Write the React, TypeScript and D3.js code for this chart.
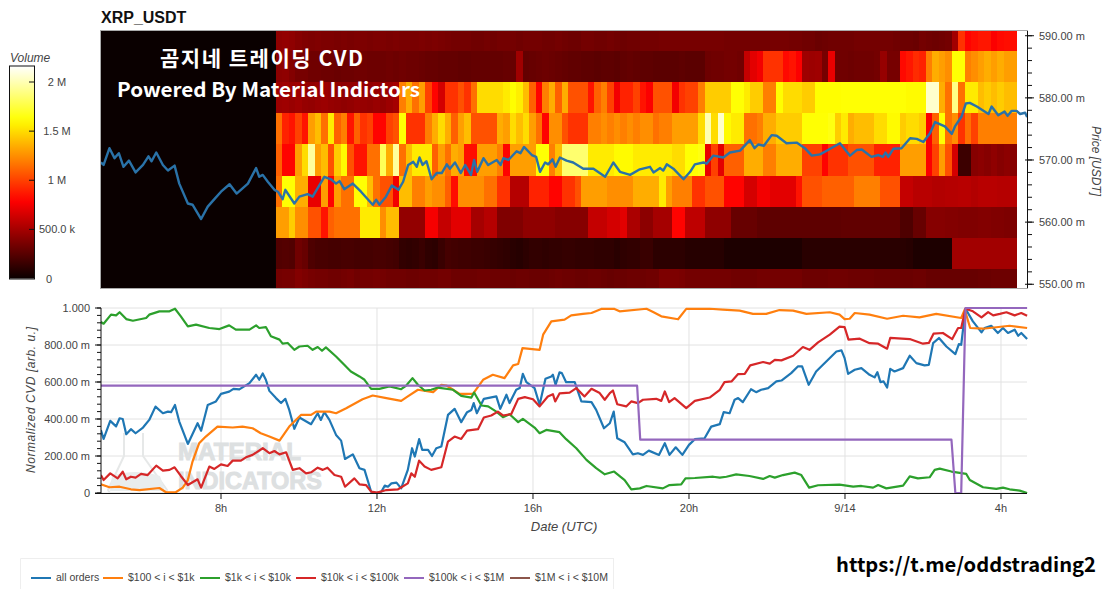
import React from "react";
import * as d3 from "d3";

const heatRow1 = [430,440,430,400,380,370,380,370,370,360,370,360,370,370,360,370,370,360,370,360,360,360,370,360,370,360,350,340,340,340,330,330,340,330,340,340,340,330,340,340,340,330,330,340,330,320,320,340,340,330,330,340,330,320,330,330,340,340,340,350,350,350,350,350,350,350,350,350,350,340,340,340,340,340,340,340,350,350,350,340,340,330,330,310,320,330,330,330,330,340,340,340,340,340,340,330,320,320,310,340,330,320,330,340,490,950,800,830,860,860,780,820,830,830];
const heatRow2 = [420,430,390,350,350,330,330,320,320,310,320,320,330,330,320,320,320,330,320,330,320,320,310,300,300,290,290,290,280,280,290,290,290,290,290,300,300,480,290,300,310,320,310,300,290,280,280,270,270,260,270,270,260,280,290,280,270,270,260,260,260,260,270,260,260,260,320,330,330,340,340,330,600,700,750,950,950,950,820,850,780,480,470,480,350,720,330,330,320,330,330,330,340,450,350,350,820,860,930,900,1200,1350,1300,1250,1620,1620,1200,1250,1300,1350,1300,1350,1300,1300];
const heatRow3 = [470,480,460,480,450,440,460,470,450,440,430,440,460,450,440,460,440,470,500,1200,1350,1150,1300,1000,800,650,950,950,1050,950,1150,1500,1500,1500,1500,1550,1610,1560,1400,1100,800,1200,1350,1100,1350,1050,1050,1050,850,1100,1200,1000,750,900,900,1000,850,780,1050,1050,1050,750,950,1000,1000,1200,1450,1450,1450,1450,1620,1620,1550,1450,1450,1200,1200,1610,1500,1500,1500,1450,1450,1610,1610,1610,1610,1620,1620,1620,1620,1620,1620,1620,1620,1620,1620,1600,1600,1600,2050,2050,1350,1150,1900,1150,1550,1550,1400,1450,1400,1450,1400,1400];
const heatRow4 = [1150,900,850,1000,850,1300,1400,1150,1550,1100,1200,850,1100,950,1000,800,800,1000,1050,1620,950,950,950,1200,1350,1500,1350,1100,1300,1400,1050,1050,1050,1050,1350,1300,1500,1400,1500,1300,1150,800,1250,1250,1050,950,950,950,1200,1200,1250,1200,1250,1200,1250,1200,1250,1250,1150,1200,1200,1300,1300,1300,1300,1500,2000,1500,2050,1600,1550,1550,1150,1150,1200,1350,1350,1450,1450,1450,1450,1620,1620,1620,1620,1650,1450,1550,1350,1400,1400,1400,1500,1500,1600,1600,1450,1500,1500,1450,780,1100,1620,1150,1250,950,1150,1000,1200,1200,1200,1200,1200,1200];
const heatRow5 = [1100,800,800,1300,1500,1950,1300,1400,1050,1450,1600,1050,850,850,1150,1150,1800,1350,1950,1150,1400,1550,1550,1550,1100,1300,1150,1350,1300,830,830,1300,1300,1300,1200,800,1300,1300,1300,1300,1620,1620,1200,1400,1850,1850,1850,1850,1550,1550,1550,1550,1600,1600,1600,1550,1550,1550,1550,1550,1550,1500,1500,1620,1620,1650,720,1000,700,1100,1100,1100,1350,1350,1350,1200,1200,1350,1350,1350,1350,1000,1000,1000,800,950,950,950,1050,1050,1050,1050,900,900,900,900,1300,1300,1300,1300,780,1000,1300,1050,650,160,160,400,420,400,430,400,420,400];
const heatRow6 = [1150,1620,1620,1350,1350,720,720,1300,800,1300,1150,1150,1620,1620,1400,1150,1050,1050,750,1400,1400,1200,1200,1300,1250,1250,1100,830,1250,1250,1250,1250,1150,1150,950,950,550,550,550,900,900,900,800,800,950,950,1050,1300,1300,1300,1300,1250,1250,1250,1250,1350,1350,1350,1350,1550,1300,1200,1200,1200,950,950,1050,1050,1050,800,800,800,650,650,750,750,700,700,700,700,850,1050,1050,1050,1100,1100,1100,1100,1100,1200,1200,1200,1200,1050,1050,1050,600,600,560,560,560,540,540,550,550,560,560,540,560,560,560,550,550,560];
const heatRow7 = [1300,1300,1450,1250,1250,1050,1050,850,1100,1150,1150,1150,1150,1550,1550,1550,1250,1400,1400,440,440,440,440,760,760,600,600,700,700,700,500,500,550,550,380,380,380,380,430,430,430,430,430,400,400,400,400,400,600,600,600,650,650,700,520,520,420,420,500,500,500,800,800,580,580,580,430,430,430,430,300,300,300,300,270,270,270,270,270,270,270,270,270,270,270,270,270,280,280,280,280,280,280,280,280,280,220,220,300,300,400,400,400,390,390,380,380,380,390,390,380,380,370,370];
const heatRow8 = [230,240,230,330,300,220,200,200,190,190,200,200,190,190,190,200,200,190,180,130,120,130,150,120,110,150,190,180,170,170,160,160,150,140,130,120,100,90,110,130,130,120,130,130,140,140,130,130,130,120,120,120,100,120,130,130,150,150,110,110,110,110,110,90,90,90,90,90,90,60,60,60,60,60,60,60,60,60,60,60,60,100,100,100,100,100,100,100,100,100,100,100,100,100,100,100,100,90,60,60,60,60,60,60,490,490,490,490,490,490,490,490,490,490];
const heatRow9 = [340,350,350,390,370,350,340,340,330,330,340,350,330,340,340,350,340,330,330,330,320,320,330,330,330,340,340,320,320,320,320,330,330,320,320,320,310,320,320,310,310,310,320,330,320,320,310,310,320,320,310,300,310,310,320,320,320,330,330,370,370,370,360,340,340,340,340,340,340,340,330,330,330,330,340,340,340,340,340,340,340,320,320,320,320,330,330,330,320,320,320,320,310,310,310,310,310,310,320,320,300,300,300,300,300,300,300,300,310,310,320,320,320,320];
const heatRows = [heatRow1, heatRow2, heatRow3, heatRow4, heatRow5, heatRow6, heatRow7, heatRow8, heatRow9];
const bandCentres = [590, 585, 580, 575, 570, 565, 560, 555, 550];

const price: [number, number][] = [[4.92,569.6],[4.99,569.2],[5.14,571.9],[5.27,570.3],[5.38,571.1],[5.5,568.9],[5.64,569.9],[5.81,568.0],[6.0,569.2],[6.14,570.6],[6.22,569.8],[6.34,571.2],[6.51,569.2],[6.64,568.3],[6.81,569.1],[6.93,566.2],[7.15,563.0],[7.27,562.8],[7.49,560.5],[7.66,562.5],[7.83,563.7],[8.0,564.9],[8.22,566.1],[8.4,564.6],[8.69,566.2],[8.9,568.7],[8.98,567.3],[9.07,567.6],[9.2,566.5],[9.37,565.2],[9.46,564.9],[9.58,563.7],[9.65,565.2],[9.88,563.0],[10.01,564.1],[10.22,564.5],[10.35,564.1],[10.65,567.3],[10.82,566.9],[10.95,566.2],[11.04,566.6],[11.16,565.3],[11.38,566.2],[11.59,564.9],[11.89,562.8],[11.98,563.6],[12.06,562.8],[12.23,564.1],[12.38,565.9],[12.55,565.2],[12.67,566.5],[12.8,569.2],[12.93,569.7],[13.02,568.9],[13.09,570.4],[13.17,569.2],[13.27,569.8],[13.4,566.9],[13.53,567.9],[13.66,567.9],[13.79,569.3],[13.87,568.6],[14.0,569.6],[14.15,567.9],[14.26,569.2],[14.41,567.6],[14.49,570.0],[14.57,568.1],[14.73,570.3],[14.85,569.2],[15.07,570.0],[15.17,569.2],[15.24,570.3],[15.37,570.0],[15.58,571.4],[15.68,571.1],[15.77,572.1],[15.97,570.8],[16.08,570.5],[16.18,568.1],[16.31,569.6],[16.39,569.3],[16.5,570.1],[16.58,568.9],[16.69,570.4],[16.86,569.9],[17.03,569.6],[17.29,568.6],[17.55,568.6],[17.85,567.3],[18.06,569.6],[18.23,568.1],[18.49,567.6],[18.74,568.5],[19.0,568.9],[19.09,568.0],[19.26,568.7],[19.34,568.3],[19.43,569.3],[19.6,568.6],[19.86,566.9],[20.03,568.1],[20.15,569.3],[20.37,569.6],[20.45,569.4],[20.62,570.7],[20.88,570.4],[21.05,571.2],[21.31,571.5],[21.56,573.2],[21.68,571.9],[21.78,572.5],[21.92,572.3],[22.12,574.0],[22.25,573.9],[22.5,572.7],[22.76,572.8],[22.97,571.9],[23.15,570.7],[23.36,570.9],[23.53,571.5],[23.87,572.7],[24.13,570.7],[24.3,571.6],[24.43,571.7],[24.68,570.5],[24.86,570.8],[24.97,570.5],[25.04,571.2],[25.11,570.5],[25.24,571.8],[25.45,571.9],[25.67,573.5],[25.84,573.4],[26.01,572.9],[26.18,574.3],[26.31,576.1],[26.56,575.4],[26.74,574.2],[26.82,575.4],[26.99,577.0],[27.1,579.1],[27.2,579.2],[27.38,578.6],[27.68,577.4],[27.76,578.6],[27.93,577.2],[28.09,577.8],[28.17,577.1],[28.27,577.9],[28.4,577.9],[28.49,577.4],[28.62,577.6],[28.67,576.9]];

const allOrders: [number, number][] = [[4.92,340],[4.99,292],[5.16,390],[5.31,360],[5.4,404],[5.48,400],[5.57,318],[5.69,345],[5.81,323],[6.0,354],[6.16,395],[6.32,467],[6.51,431],[6.64,440],[6.72,437],[6.82,476],[6.93,386],[7.15,265],[7.4,377],[7.49,337],[7.66,476],[7.87,495],[8.0,536],[8.21,548],[8.32,563],[8.47,560],[8.73,594],[8.9,639],[8.98,612],[9.07,646],[9.15,612],[9.24,552],[9.41,513],[9.54,486],[9.65,509],[9.75,449],[9.88,347],[10.01,408],[10.31,372],[10.48,431],[10.56,395],[10.65,437],[10.78,395],[10.95,314],[11.08,283],[11.18,184],[11.38,209],[11.55,134],[11.68,125],[11.85,7],[11.98,0],[12.11,7],[12.2,40],[12.28,34],[12.37,52],[12.5,56],[12.62,25],[12.79,125],[12.9,242],[12.97,197],[13.08,291],[13.16,233],[13.31,233],[13.41,200],[13.52,242],[13.65,251],[13.82,422],[13.99,455],[14.16,383],[14.31,437],[14.42,449],[14.48,486],[14.56,431],[14.74,509],[15.06,522],[15.16,455],[15.32,531],[15.4,486],[15.57,558],[15.66,567],[15.74,644],[15.83,599],[16.04,567],[16.17,477],[16.32,617],[16.47,630],[16.51,639],[16.58,585],[16.68,652],[16.74,648],[16.85,599],[17.07,599],[17.24,495],[17.5,491],[17.62,449],[17.82,350],[17.97,377],[18.07,440],[18.16,296],[18.35,274],[18.56,209],[18.69,215],[18.82,206],[18.97,229],[19.23,206],[19.38,269],[19.5,206],[19.66,247],[19.83,206],[20.0,260],[20.15,291],[20.4,296],[20.57,359],[20.79,372],[20.89,437],[21.04,431],[21.17,504],[21.26,513],[21.38,491],[21.59,561],[21.72,545],[21.85,558],[22.03,567],[22.24,603],[22.37,608],[22.62,648],[22.79,684],[22.9,684],[23.07,585],[23.26,657],[23.52,711],[23.78,765],[23.91,771],[23.99,729],[24.08,644],[24.25,666],[24.42,675],[24.63,639],[24.76,625],[24.83,653],[24.91,599],[24.99,603],[25.08,570],[25.16,671],[25.27,657],[25.49,675],[25.66,742],[25.83,702],[26.04,690],[26.15,693],[26.26,810],[26.41,838],[26.6,792],[26.83,751],[26.92,805],[26.98,801],[27.09,996],[27.28,928],[27.5,868],[27.58,892],[27.75,904],[27.92,865],[28.05,892],[28.18,865],[28.35,883],[28.44,850],[28.52,865],[28.67,832]];

const usd100to1k: [number, number][] = [[4.92,47],[5.14,31],[5.4,34],[5.69,20],[5.91,16],[6.42,27],[6.59,4],[6.84,4],[7.02,29],[7.15,70],[7.27,170],[7.44,269],[7.61,305],[7.91,359],[8.3,354],[8.55,359],[8.81,350],[9.02,323],[9.24,305],[9.5,283],[9.75,359],[10.05,422],[10.31,422],[10.44,440],[10.78,440],[10.95,431],[11.21,458],[11.63,507],[11.89,527],[12.24,513],[12.62,498],[12.79,522],[13.05,558],[13.44,545],[13.65,585],[13.78,581],[14.12,536],[14.46,536],[14.72,612],[14.97,639],[15.27,621],[15.49,690],[15.62,697],[15.73,783],[16.17,774],[16.26,856],[16.47,928],[16.81,937],[16.98,960],[17.28,968],[17.5,973],[17.75,995],[18.09,995],[18.22,982],[18.91,996],[19.08,978],[19.29,955],[19.72,939],[19.93,995],[20.53,996],[20.87,991],[21.3,986],[21.64,968],[21.98,968],[22.32,989],[22.67,986],[23.01,968],[23.61,977],[23.86,964],[23.99,940],[24.12,942],[24.25,973],[24.63,964],[25.08,942],[25.49,958],[25.91,949],[26.34,968],[26.98,946],[27.07,991],[27.21,892],[27.54,888],[28.22,904],[28.67,892]];

const usd1kto10k: [number, number][] = [[4.92,924],[4.99,915],[5.18,964],[5.31,960],[5.4,977],[5.57,940],[5.74,931],[6.08,946],[6.16,964],[6.42,982],[6.68,982],[6.82,996],[6.97,955],[7.15,901],[7.36,910],[7.7,892],[7.96,886],[8.21,906],[8.38,883],[8.73,883],[8.9,906],[8.98,892],[9.15,897],[9.28,847],[9.5,829],[9.58,807],[9.71,811],[9.88,774],[10.01,792],[10.22,796],[10.35,774],[10.48,789],[10.59,769],[10.69,787],[10.95,738],[11.16,693],[11.33,657],[11.55,630],[11.68,612],[11.85,563],[12.06,563],[12.32,576],[12.62,561],[12.75,581],[12.91,621],[13.05,585],[13.22,554],[13.39,558],[13.56,570],[13.95,558],[14.16,525],[14.42,516],[14.49,543],[14.68,473],[14.85,468],[15.06,440],[15.23,410],[15.4,426],[15.62,383],[15.74,401],[16.04,354],[16.17,323],[16.34,341],[16.68,329],[16.85,291],[17.11,242],[17.37,179],[17.62,134],[17.84,101],[18.08,116],[18.35,70],[18.52,20],[18.74,25],[18.91,38],[19.33,25],[19.5,43],[19.8,47],[19.91,79],[20.15,81],[20.62,88],[20.79,83],[20.96,88],[21.21,101],[21.55,92],[21.9,76],[22.07,92],[22.2,83],[22.41,97],[22.71,110],[22.88,97],[23.08,29],[23.31,42],[23.86,45],[24.21,34],[24.42,38],[24.72,29],[24.85,43],[25.06,25],[25.49,40],[25.66,90],[25.87,79],[26.17,85],[26.3,125],[26.43,132],[26.73,116],[27.11,103],[27.2,70],[27.54,31],[27.88,22],[28.05,29],[28.22,20],[28.48,13],[28.67,0]];

const usd10kto100k: [number, number][] = [[4.92,97],[4.99,70],[5.16,106],[5.35,79],[5.48,115],[5.57,74],[5.69,88],[5.81,83],[5.95,103],[6.12,97],[6.34,148],[6.51,121],[6.68,125],[6.81,139],[6.97,92],[7.15,43],[7.4,74],[7.49,29],[7.7,143],[7.83,130],[8.0,155],[8.17,146],[8.3,175],[8.51,175],[8.64,193],[8.81,206],[9.07,242],[9.24,215],[9.37,227],[9.5,209],[9.67,220],[9.84,125],[10.01,134],[10.18,106],[10.31,112],[10.48,137],[10.61,125],[10.73,137],[10.91,97],[11.08,88],[11.18,34],[11.42,79],[11.55,47],[11.72,43],[11.85,7],[12.0,2],[12.24,16],[12.54,20],[12.79,52],[12.88,106],[12.97,88],[13.08,175],[13.22,143],[13.39,125],[13.65,139],[13.82,278],[13.99,305],[14.16,292],[14.31,337],[14.59,345],[14.74,408],[14.93,419],[15.1,440],[15.23,419],[15.44,426],[15.62,509],[15.79,518],[16.0,507],[16.17,468],[16.38,522],[16.51,534],[16.57,495],[16.68,538],[16.94,543],[17.11,567],[17.32,522],[17.5,563],[17.71,540],[17.84,504],[17.97,540],[18.05,554],[18.16,480],[18.39,468],[18.52,495],[18.69,486],[18.82,504],[19.16,509],[19.29,498],[19.38,549],[19.49,491],[19.63,513],[19.93,459],[20.15,498],[20.53,516],[20.79,558],[20.91,599],[21.09,603],[21.26,643],[21.43,644],[21.57,690],[21.9,708],[22.07,699],[22.2,720],[22.37,717],[22.67,742],[22.92,789],[23.09,774],[23.31,814],[23.61,856],[23.86,899],[23.99,897],[24.09,829],[24.38,834],[24.63,810],[24.85,807],[25.08,780],[25.16,838],[25.66,832],[26.0,807],[26.15,811],[26.27,861],[26.51,865],[26.75,832],[26.9,892],[26.98,892],[27.09,996],[27.28,982],[27.5,949],[27.67,978],[27.8,960],[27.97,968],[28.14,977],[28.35,960],[28.52,973],[28.67,958]];

const usd100kto1M: [number, number][] = [[4.92,580],[18.67,580],[18.75,288],[26.73,288],[26.83,0],[26.98,0],[27.09,1000],[28.67,1000]];
const usd1Mto10M: [number, number][] = [];

const seriesNames = ["all orders", "$100 < i < $1k", "$1k < i < $10k", "$10k < i < $100k", "$100k < i < $1M", "$1M < i < $10M"];
const seriesColors = ["#1f77b4", "#ff7f0e", "#2ca02c", "#d62728", "#9467bd", "#8c564b"];
const seriesData = [allOrders, usd100to1k, usd1kto10k, usd10kto100k, usd100kto1M, usd1Mto10M];

const xTickVals = [8, 12, 16, 20, 24, 28];
const xTickText = ["8h", "12h", "16h", "20h", "9/14", "4h"];
const cvdTicks = [0, 200, 400, 600, 800, 1000];
const cvdTickText = ["0", "200.00 m", "400.00 m", "600.00 m", "800.00 m", "1.000"];
const priceTicks = [550, 560, 570, 580, 590];
const volTicks = [0, 500, 1000, 1500, 2000];
const volTickText = ["0", "500.0 k", "1 M", "1.5 M", "2 M"];

const W = 1108, H = 589;
const SANS = "'Liberation Sans', Arial, sans-serif";
const KR = "'Noto Sans CJK KR', sans-serif";
const TICK = "#444";

const x = d3.scaleLinear().domain([4.923, 28.667]).range([101, 1027]);
const yPrice = d3.scaleLinear().domain([549.4, 590.76]).range([288, 31]);
const yCvd = d3.scaleLinear().domain([0, 1000]).range([493, 308]);
const yVol = d3.scaleLinear().domain([0, 2163]).range([278.5, 66]);
const VMAX = 2163;
const hot = d3.scaleLinear<string>()
  .domain([0, 0.365 * VMAX, 0.746 * VMAX, VMAX])
  .range(["#0a0000", "#ff0000", "#ffff00", "#ffffff"])
  .interpolate(d3.interpolateRgb as any)
  .clamp(true);

const HEAT_START = 9.41;
const HEAT_STEP = 1 / 6;
const BAND = 5;

const priceLine = d3.line<[number, number]>().x(d => x(d[0])).y(d => yPrice(d[1]));
const cvdLine = d3.line<[number, number]>().x(d => x(d[0])).y(d => yCvd(d[1]));

const legendGlyphX = [31, 103, 200, 296, 404, 510];

export default function App() {
  const minorPrice = d3.range(550, 591, 2);
  const minorCvd = d3.range(0, 1001, 40);
  const gradStops = d3.range(0, 1.0001, 0.04);
  return (
    <svg width={W} height={H} viewBox={`0 0 ${W} ${H}`}
      style={{ position: "absolute", left: 0, top: 0, display: "block", background: "#fff" }}>
      <defs>
        <clipPath id="heatClip"><rect x={101} y={31} width={926} height={257} /></clipPath>
        <clipPath id="cvdClip"><rect x={101} y={306} width={927} height={189} /></clipPath>
        <linearGradient id="volGrad" x1="0" y1="1" x2="0" y2="0">
          {gradStops.map(s => <stop key={s} offset={s} stopColor={hot(s * VMAX)} />)}
        </linearGradient>
      </defs>

      <text x={101} y={23} fontFamily={SANS} fontWeight={700} fontSize={16} fill="#111">XRP_USDT</text>

      {/* heatmap */}
      <g clipPath="url(#heatClip)">
        <rect x={x(x.domain()[0])} y={31} width={x(HEAT_START) - x(x.domain()[0])} height={257} fill={hot(0)} />
        <g shapeRendering="crispEdges">
          {heatRows.map((row, r) => row.map((v, k) => (
            <rect key={`${r}-${k}`} x={x(HEAT_START + k * HEAT_STEP)} y={yPrice(bandCentres[r] + BAND / 2)}
              width={x(HEAT_START + HEAT_STEP) - x(HEAT_START) + 0.5}
              height={yPrice(bandCentres[r] - BAND / 2) - yPrice(bandCentres[r] + BAND / 2) + 0.5}
              fill={hot(v)} />
          )))}
        </g>
        <path d={priceLine(price)!} fill="none" stroke="#2a72a8" strokeWidth={2.4} strokeLinejoin="round" />
      </g>
      <rect x={100.5} y={30.5} width={927} height={258} fill="none" stroke="#aaa" strokeWidth={1} />

      {/* price axis */}
      <line x1={1027.5} x2={1027.5} y1={31} y2={288} stroke="#111" />
      {minorPrice.map(p => (
        <line key={p} x1={1027} x2={1032} y1={yPrice(p)} y2={yPrice(p)} stroke="#111" />
      ))}
      {priceTicks.map(p => (
        <g key={p}>
          <line x1={1025} x2={1034} y1={yPrice(p)} y2={yPrice(p)} stroke="#111" />
          <text x={1039} y={yPrice(p) + 4} fontFamily={SANS} fontSize={11} fill={TICK}>{p.toFixed(2)} m</text>
        </g>
      ))}
      <text transform="translate(1092,161) rotate(90)" textAnchor="middle" fontFamily={SANS} fontStyle="italic" fontSize={12} fill={TICK}>Price [USDT]</text>

      {/* colour bar */}
      <text x={10} y={62} fontFamily={SANS} fontStyle="italic" fontSize={12} fill={TICK}>Volume</text>
      <rect x={10} y={yVol(VMAX)} width={24} height={yVol(0) - yVol(VMAX)} fill="url(#volGrad)" />
      <rect x={9.5} y={66} width={25} height={213} fill="none" stroke="#111" />
      {volTicks.map((v, i) => (
        <g key={v}>
          {i > 0 && <line x1={29} x2={34} y1={yVol(v)} y2={yVol(v)} stroke="#111" />}
          <text x={i === 0 ? 49 : 57} y={yVol(v) + 4} textAnchor="middle" fontFamily={SANS} fontSize={11} fill={TICK}>{volTickText[i]}</text>
        </g>
      ))}

      {/* overlay captions */}
      <text x={160} y={66} textLength={203} lengthAdjust="spacing" fontFamily={KR} fontWeight={700} fontSize={21} fill="#fff">곰지네 트레이딩 CVD</text>
      <text x={117} y={97} textLength={303} lengthAdjust="spacingAndGlyphs" fontFamily={KR} fontWeight={700} fontSize={20} fill="#fff">Powered By Material Indictors</text>

      {/* CVD grid */}
      {xTickVals.map(t => (
        <line key={t} x1={x(t)} x2={x(t)} y1={308} y2={493} stroke="#e2e2e2" />
      ))}
      {cvdTicks.map(v => (
        <line key={v} x1={101} x2={1027} y1={yCvd(v)} y2={yCvd(v)} stroke="#e2e2e2" />
      ))}

      {/* watermark */}
      <g>
        <path d="M124 433 L124 456 L108 490 L110 493 L165 493 L167 490 L143 456 L143 433" fill="none" stroke="#e6e8e8" strokeWidth={2} />
        <path d="M112 476 Q135 468 160 476 L165 491 L110 491 Z" fill="#e9eded" />
        <text x={178} y={460} textLength={123} lengthAdjust="spacingAndGlyphs" fontFamily="'Liberation Sans Narrow','Liberation Sans'" fontWeight={700} fontSize={24} fill="#dde0e1" stroke="#dde0e1" strokeWidth={1}>MATERIAL</text>
        <text x={178} y={489} textLength={144} lengthAdjust="spacingAndGlyphs" fontFamily="'Liberation Sans Narrow','Liberation Sans'" fontWeight={700} fontSize={24} fill="#dde0e1" stroke="#dde0e1" strokeWidth={1}>INDICATORS</text>
      </g>

      {/* CVD lines */}
      <g clipPath="url(#cvdClip)">
        {seriesData.map((d, i) => d.length > 0 && (
          <path key={i} d={cvdLine(d)!} fill="none" stroke={seriesColors[i]} strokeWidth={2.2} strokeLinejoin="round" />
        ))}
      </g>

      {/* CVD axes */}
      <line x1={101} x2={101} y1={308} y2={493} stroke="#111" />
      <line x1={95} x2={1027} y1={493.5} y2={493.5} stroke="#111" />
      {minorCvd.map(v => (
        <line key={v} x1={97} x2={101} y1={yCvd(v)} y2={yCvd(v)} stroke="#111" />
      ))}
      {cvdTicks.map((v, i) => (
        <g key={v}>
          <line x1={95} x2={101} y1={yCvd(v)} y2={yCvd(v)} stroke="#111" />
          <text x={90} y={yCvd(v) + 4} textAnchor="end" fontFamily={SANS} fontSize={11} fill={TICK}>{cvdTickText[i]}</text>
        </g>
      ))}
      {xTickVals.map((t, i) => (
        <g key={t}>
          <line x1={x(t)} x2={x(t)} y1={493} y2={499} stroke="#111" />
          <text x={x(t)} y={512} textAnchor="middle" fontFamily={SANS} fontSize={11} fill={TICK}>{xTickText[i]}</text>
        </g>
      ))}
      <text transform="translate(35,400) rotate(-90)" textAnchor="middle" textLength={146} fontFamily={SANS} fontStyle="italic" fontSize={12} fill={TICK}>Normalized CVD [arb. u.]</text>
      <text x={564} y={531} textAnchor="middle" fontFamily={SANS} fontStyle="italic" fontSize={13} fill={TICK}>Date (UTC)</text>

      {/* legend */}
      <path d="M614 558.5 L20.5 558.5 L20.5 589" fill="none" stroke="#eee" />
      <line x1={613.5} x2={613.5} y1={558} y2={589} stroke="#eee" />
      {seriesNames.map((n, i) => (
        <g key={n}>
          <line x1={legendGlyphX[i]} x2={legendGlyphX[i] + 20} y1={578} y2={578} stroke={seriesColors[i]} strokeWidth={2} />
          <text x={legendGlyphX[i] + 25} y={581} fontFamily={SANS} fontSize={10.5} fill={TICK}>{n}</text>
        </g>
      ))}

      <text x={836} y={572} textLength={260} lengthAdjust="spacingAndGlyphs" fontFamily={KR} fontWeight={700} fontSize={20} fill="#000">https://t.me/oddstrading2</text>
    </svg>
  );
}
